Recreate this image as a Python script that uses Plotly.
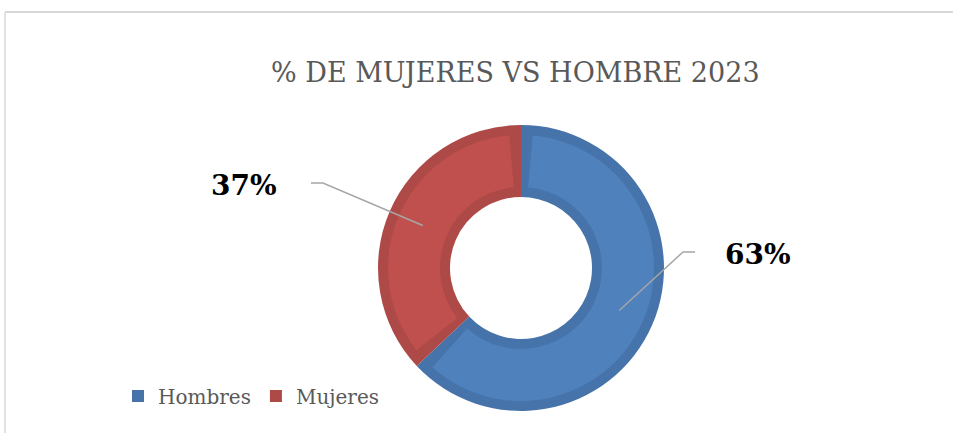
import math
import plotly.graph_objects as go

# ---- data ----
labels = ["Hombres", "Mujeres"]
values = [63, 37]
title_text = "% DE MUJERES VS HOMBRE 2023"

# ---- style ----
W, H = 953, 433
light = ["#4F81BD", "#C0504D"]
dark = ["#4674AA", "#AD4946"]
cx, cy = 521, 268          # donut centre (px, from top)
R_out, R_in = 143, 71      # outer / inner radius (px)
band = 10                  # bevel band width (px)
gap = 2.8                  # angular band (in value units) for slice borders

def dom(r):
    return dict(x=[(cx - r) / W, (cx + r) / W],
                y=[1 - (cy + r) / H, 1 - (cy - r) / H])

fig = go.Figure()

# dark base ring
fig.add_trace(go.Pie(
    labels=labels, values=values, sort=False, direction="clockwise",
    rotation=0, hole=R_in / R_out, domain=dom(R_out),
    marker=dict(colors=dark, line=dict(width=0)),
    textinfo="none", hoverinfo="label+percent", showlegend=True,
))

# lighter inner ring with gaps at slice borders
g = gap
top_vals = [g / 2, values[0] - g, g, values[1] - g, g / 2]
top_cols = ["rgba(0,0,0,0)", light[0], "rgba(0,0,0,0)", light[1], "rgba(0,0,0,0)"]
r_o2, r_i2 = R_out - band, R_in + band
fig.add_trace(go.Pie(
    labels=["g1", labels[0], "g2", labels[1], "g3"], values=top_vals,
    sort=False, direction="clockwise", rotation=0,
    hole=r_i2 / r_o2, domain=dom(r_o2),
    marker=dict(colors=top_cols, line=dict(width=0)),
    textinfo="none", hoverinfo="skip", showlegend=False,
))

# leader lines & labels computed from slice mid-angles
total = sum(values)
pct = [round(v / total * 100) for v in values]
label_pos = [(758, 254), (244, 185)]       # text centres (px)
elbows = [[(683, 252), (695, 252)], [(323, 183), (311, 183)]]
r_mid = (R_out + R_in) / 2
start = 0.0
for i, v in enumerate(values):
    mid = start + v / 2
    ang = math.radians(90 - mid / total * 360)
    px = cx + r_mid * math.cos(ang)
    py = cy - r_mid * math.sin(ang)
    pts = [(px, py)] + elbows[i]
    path = "M " + " L ".join(f"{x:.1f},{y:.1f}" for x, y in pts)
    fig.add_shape(type="path", path=path, xref="x", yref="y", layer="above",
                  line=dict(color="#A6A6A6", width=1.5))
    fig.add_annotation(x=label_pos[i][0], y=label_pos[i][1], xref="x", yref="y",
                       text=f"<b>{pct[i]}%</b>", showarrow=False,
                       font=dict(family="DejaVu Serif", size=28, color="#000000"))
    start += v

# frame
fig.add_shape(type="line", x0=5, x1=W, y0=12, y1=12, xref="x", yref="y",
              line=dict(color="#D9D9D9", width=2))
fig.add_shape(type="line", x0=5, x1=5, y0=12, y1=H, xref="x", yref="y",
              line=dict(color="#D9D9D9", width=1.5))

# title
fig.add_annotation(x=515, y=72, xref="x", yref="y", text=title_text,
                   showarrow=False,
                   font=dict(family="DejaVu Serif", size=27, color="#595959"))

fig.update_layout(
    width=W, height=H, margin=dict(l=0, r=0, t=0, b=0),
    paper_bgcolor="white", plot_bgcolor="rgba(0,0,0,0)",
    xaxis=dict(range=[0, W], visible=False, fixedrange=True),
    yaxis=dict(range=[H, 0], visible=False, fixedrange=True),
    legend=dict(orientation="h", x=118 / W, y=1 - 396 / H, xanchor="left",
                yanchor="middle", font=dict(family="DejaVu Serif", size=20,
                                            color="#595959"),
                itemwidth=30, tracegroupgap=0),
)

fig.write_html("out.html")
